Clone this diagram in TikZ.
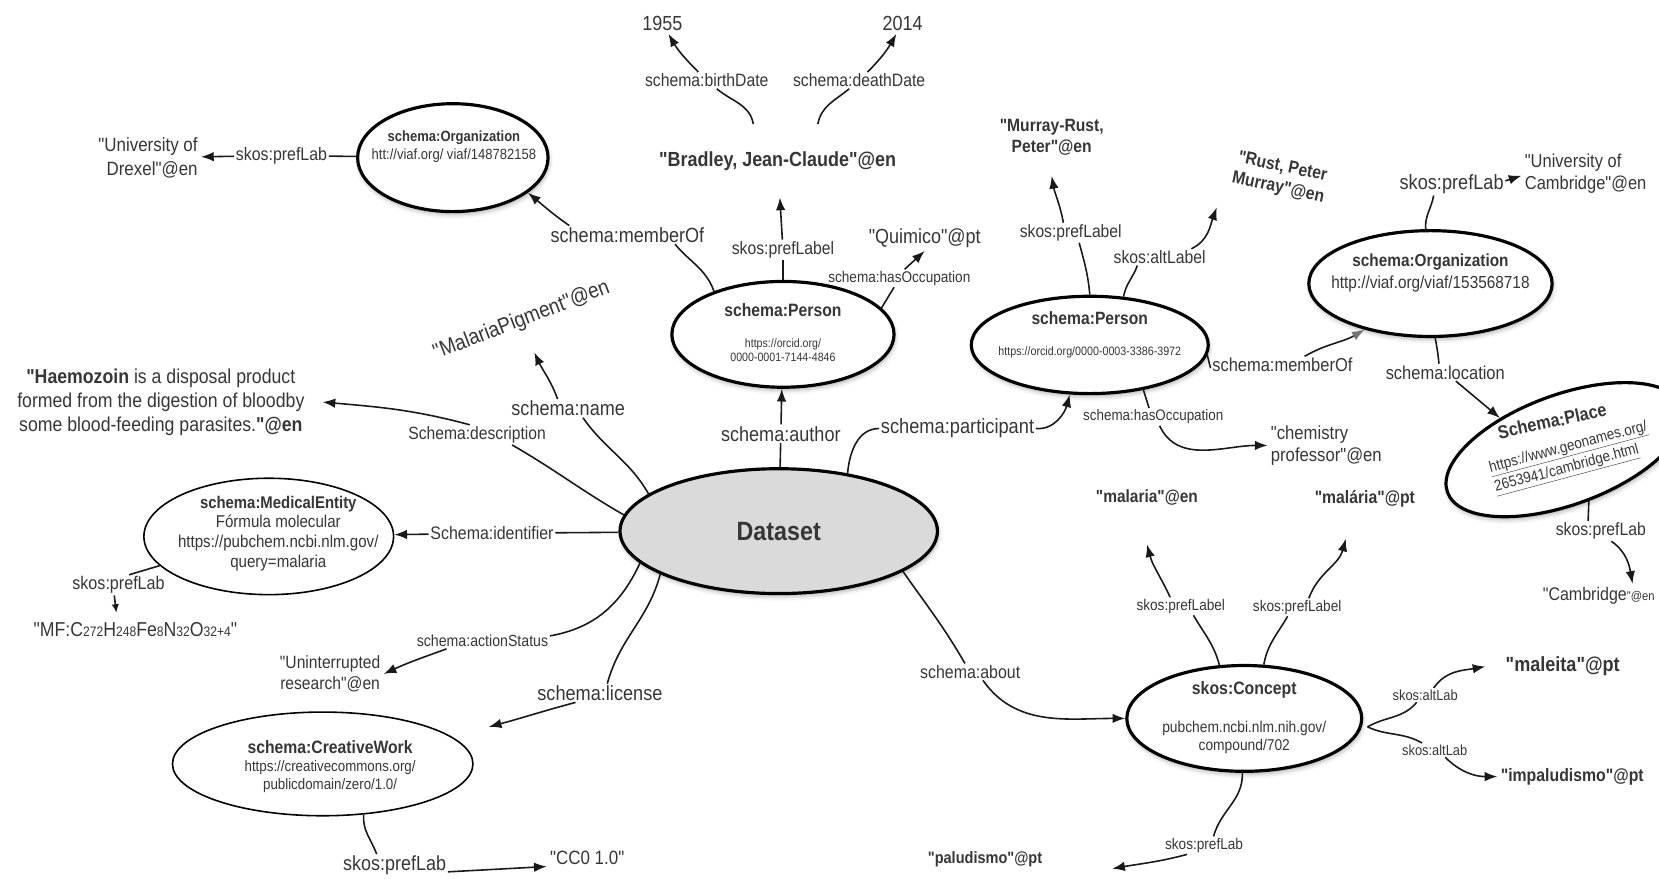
\documentclass[tikz,border=0pt]{standalone}
\usepackage{fontspec}
\setmainfont{Liberation Sans}[FakeStretch=0.88, Ligatures=TeXOff]
\usetikzlibrary{shapes.geometric,arrows.meta,shadows.blur}
\definecolor{txt}{HTML}{363636}
\definecolor{dsfill}{HTML}{DADADA}
\newcommand\fsz[2]{\fontsize{#1}{#2}\selectfont}
\newcommand\smallsub[1]{{\fontsize{13}{15}\selectfont #1}}
\tikzset{
  wire/.style={line width=1.5pt, draw=black!90},
  arr/.style={wire, -{Latex[length=12pt,width=9pt]}},
  arrsmall/.style={wire, -{Latex[length=8pt,width=7pt]}},
  arrgray/.style={wire, -{Latex[length=12pt,width=9pt,color=black!55]}},
  ringbold/.style={ellipse, draw, line width=3pt, inner sep=0pt, fill=white,
    blur shadow={shadow xshift=1pt, shadow yshift=-3pt, shadow blur radius=4pt, shadow opacity=30}},
  ringthin/.style={ellipse, draw, line width=1.5pt, inner sep=0pt, fill=white},
  lbl/.style={inner sep=1.5pt, text=txt, font=\fsz{#1}{#1}},
  val/.style={inner sep=3pt, text=txt},
  intext/.style={inner sep=1pt, text=txt, align=center},
}
\begin{document}
\begin{tikzpicture}[x=1pt,y=1pt]
\useasboundingbox (0,0) rectangle (1568,-830);

% ---------- ellipses ----------
\node[ringbold, minimum width=300pt, minimum height=118pt, fill=dsfill] (ds) at (736,-502) {};
\node[ringbold, minimum width=210pt, minimum height=100pt] (p1) at (740,-316) {};
\node[ringbold, minimum width=180pt, minimum height=102pt] (orgL) at (428,-149) {};
\node[ringbold, minimum width=224pt, minimum height=92pt] (p2) at (1030,-326) {};
\node[ringbold, minimum width=230pt, minimum height=100pt] (org2) at (1352,-268) {};
\node[ringbold, minimum width=236pt, minimum height=104pt, rotate=20] (place) at (1479,-425) {};
\node[ringbold, minimum width=222pt, minimum height=100pt] (concept) at (1176,-679) {};
\node[ringthin, minimum width=236pt, minimum height=110pt] (med) at (254,-507) {};
\node[ringthin, minimum width=284pt, minimum height=98pt] (cw) at (305,-722) {};

% ---------- text inside the ellipses ----------
\node[intext, font=\fsz{25}{28}\bfseries] (dsT) at (736,-502) {Dataset};
\node[intext, font=\fsz{16.9}{19}\bfseries] (p1T) at (740,-293) {schema:Person};
\node[intext, font=\fsz{11.4}{14}] (p1U) at (740,-331) {https://orcid.org/\\0000-0001-7144-4846};
\node[intext, font=\fsz{14}{16}\bfseries] (orgLT) at (429,-130) {schema:Organization};
\node[intext, font=\fsz{14}{16}] (orgLU) at (429,-147) {htt://viaf.org/ viaf/148782158};
\node[intext, font=\fsz{16.8}{19}\bfseries] (p2T) at (1030,-301) {schema:Person};
\node[intext, font=\fsz{11.5}{14}] (p2U) at (1030,-333) {https://orcid.org/0000-0003-3386-3972};
\node[intext, font=\fsz{16.5}{19}\bfseries] (org2T) at (1352,-248) {schema:Organization};
\node[intext, font=\fsz{16.5}{19}] (org2U) at (1352,-268) {http://viaf.org/viaf/153568718};
\node[intext, font=\fsz{16}{18}\bfseries] (medT) at (263,-476) {schema:MedicalEntity};
\node[intext, font=\fsz{16.2}{18.7}] (medU) at (263,-513) {Fórmula molecular\\https://pubchem.ncbi.nlm.gov/\\query=malaria};
\node[intext, font=\fsz{16.9}{19}\bfseries] (cwT) at (312,-706) {schema:CreativeWork};
\node[intext, font=\fsz{14.3}{17.5}] (cwU) at (312,-734) {https://creativecommons.org/\\publicdomain/zero/1.0/};
\node[intext, font=\fsz{17}{19}\bfseries] (conT) at (1176,-652) {skos:Concept};
\node[intext, font=\fsz{14.8}{17}] (conU) at (1176,-697) {pubchem.ncbi.nlm.nih.gov/\\compound/702};
\node[intext, font=\fsz{17.5}{19}\bfseries, rotate=12] (placeT) at (1467,-398) {Schema:Place};
\node[intext, font=\fsz{14.5}{19}, align=left, rotate=15] (placeU) at (1485,-433) {\underline{https://www.geonames.org/}\\\underline{2653941/cambridge.html}};

% ---------- literal values ----------
\node[val, font=\fsz{19.3}{22}] (y1955) at (626,-22) {1955};
\node[val, font=\fsz{19.3}{22}] (y2014) at (853,-22) {2014};
\node[val, font=\fsz{19.3}{22}\bfseries, minimum height=69pt] (bradley) at (735,-152) {"Bradley, Jean-Claude"@en};
\node[val, font=\fsz{18.2}{23}, align=right, anchor=east] (drexel) at (190,-149) {"University of\\Drexel"@en};
\node[val, font=\fsz{19.3}{22}] (quimico) at (874,-225) {"Quimico"@pt};
\node[val, font=\fsz{20.5}{22}, rotate=21] (malPig) at (493,-303) {"MalariaPigment"@en};
\node[val, font=\fsz{19}{22.5}, align=center] (haemo) at (152,-380) {\textbf{"Haemozoin} is a disposal product\\formed from the digestion of bloodby\\some blood-feeding parasites.\textbf{"@en}};
\node[val, font=\fsz{19}{22}] (mf) at (128,-595) {"MF:C\smallsub{272}H\smallsub{248}Fe\smallsub{8}N\smallsub{32}O\smallsub{32+4}"};
\node[val, font=\fsz{16.8}{20}, align=center] (unint) at (312,-637) {"Uninterrupted\\research"@en};
\node[val, font=\fsz{18.2}{21}] (cc0) at (555,-811) {"CC0 1.0"};
\node[val, font=\fsz{15.6}{18}\bfseries] (paludismo) at (931,-812) {"paludismo"@pt};
\node[val, font=\fsz{16.6}{19}\bfseries] (malariaEn) at (1084,-470) {"malaria"@en};
\node[val, font=\fsz{16.9}{19}\bfseries] (malariaPt) at (1290,-471) {"malária"@pt};
\node[val, font=\fsz{19.4}{22}\bfseries] (maleita) at (1477,-630) {"maleita"@pt};
\node[val, font=\fsz{17}{20}\bfseries] (impal) at (1486,-734) {"impaludismo"@pt};
\node[val, font=\fsz{17.2}{20}] (cambridge) at (1511,-563) {"Cambridge{\fsz{12}{14}"@en}};
\node[val, font=\fsz{17.9}{21}, align=left, anchor=west] (chem) at (1198,-421) {"chemistry\\professor"@en};
\node[val, font=\fsz{16.8}{20}\bfseries, align=center] (murray) at (994,-130) {"Murray-Rust,\\Peter"@en};
\node[val, font=\fsz{16.9}{20}\bfseries, align=center, rotate=-12] (rustPM) at (1210,-168) {"Rust, Peter\\Murray"@en};
\node[val, font=\fsz{17.7}{21}, align=left, anchor=west] (uniCam) at (1438,-164) {"University of\\Cambridge"@en};

% ---------- property labels ----------
\node[lbl=17.1] (lblDrexel) at (266,-147) {skos:prefLab};
\node[lbl=16.9] (lblBirth) at (668,-76) {schema:birthDate};
\node[lbl=16.9] (lblDeath) at (812,-76) {schema:deathDate};
\node[lbl=16.9] (lblP1pref) at (740,-236) {skos:prefLabel};
\node[lbl=14.6] (lblP1occ) at (850,-263) {schema:hasOccupation};
\node[lbl=19.4] (lblMemL) at (593,-222) {schema:memberOf};
\node[lbl=19.4] (lblName) at (537,-386) {schema:name};
\node[lbl=16.8] (lblDesc) at (451,-411) {Schema:description};
\node[lbl=17.1] (lblIdent) at (465,-504) {Schema:identifier};
\node[lbl=17.3] (lblMedPref) at (112,-553) {skos:prefLab};
\node[lbl=15.2] (lblAction) at (456,-606) {schema:actionStatus};
\node[lbl=19.5] (lblLic) at (567,-655) {schema:license};
\node[lbl=19.3] (lblCwPref) at (373,-818) {skos:prefLab};
\node[lbl=19.4] (lblAuthor) at (738,-410) {schema:author};
\node[lbl=19.6] (lblPart) at (905,-405) {schema:participant};
\node[lbl=17.1] (lblAbout) at (917,-635) {schema:about};
\node[lbl=16.8] (lblP2pref) at (1012,-220) {skos:prefLabel};
\node[lbl=16.9] (lblP2alt) at (1096,-243) {skos:altLabel};
\node[lbl=17.7] (lblP2mem) at (1212,-345) {schema:memberOf};
\node[lbl=14.4] (lblP2occ) at (1090,-394) {schema:hasOccupation};
\node[lbl=19.5] (lblOrg2pref) at (1372,-174) {skos:prefLab};
\node[lbl=17.7] (lblLoc) at (1366,-352) {schema:location};
\node[lbl=16.9] (lblPlacePref) at (1513,-502) {skos:prefLab};
\node[lbl=14.6] (lblConL) at (1116,-573) {skos:prefLabel};
\node[lbl=14.6] (lblConR) at (1226,-574) {skos:prefLabel};
\node[lbl=13.8] (lblAltUp) at (1347,-657) {skos:altLab};
\node[lbl=13.8] (lblAltDn) at (1356,-709) {skos:altLab};
\node[lbl=14.6] (lblConBot) at (1138,-799) {skos:prefLab};

% free arrow ends
\coordinate (pigTip) at (505,-333);
\coordinate (licTip) at (462,-687);
\coordinate (rustTip) at (1150,-196);

% ---------- connectors ----------
% left organization
\draw[wire] (orgL) -- (lblDrexel);
\draw[arr] (lblDrexel) -- (drexel);
% person 1
\draw[wire] ([xshift=-23pt]bradley.north) to[out=100,in=-40] (lblBirth);
\draw[arr] (lblBirth) to[out=135,in=-60] (y1955);
\draw[wire] ([xshift=38pt]bradley.north) to[out=80,in=-140] (lblDeath);
\draw[arr] (lblDeath) to[out=45,in=-120] (y2014);
\draw[wire] (p1) -- (lblP1pref);
\draw[arr] (lblP1pref) -- (bradley);
\draw[wire] (p1.15) -- ([xshift=-5pt]lblP1occ.south);
\draw[arr] ([xshift=5pt]lblP1occ.north) -- (quimico.south);
\draw[wire] (p1.148) to[out=110,in=-50] ([xshift=45pt]lblMemL.south);
\draw[arr] ([xshift=-55pt]lblMemL.north) to[out=145,in=-40] (orgL.-25);
% dataset, left side
\draw[wire] (ds.164) to[out=120,in=-55] ([xshift=14pt]lblName.south);
\draw[arr] ([xshift=-10pt]lblName.north) to[out=110,in=-65] (pigTip);
\draw[wire] (ds.174) to[out=150,in=-30] ([xshift=33pt]lblDesc.south);
\draw[arr] ([xshift=-7pt]lblDesc.north) to[out=165,in=-5] ([xshift=14pt]haemo.east);
\draw[wire] (ds) -- (lblIdent);
\draw[arr] (lblIdent) -- (med);
\draw[wire] (med.195) -- ([xshift=10pt]lblMedPref.north);
\draw[arrsmall] ([xshift=-4pt]lblMedPref.south) -- ([xshift=-18pt,yshift=6pt]mf.north);
\draw[wire] (ds.-167) to[out=-115,in=10] ([yshift=5pt]lblAction.east);
\draw[arr] ([xshift=-34pt]lblAction.south) to[out=200,in=25] (unint.east);
\draw[wire] (ds.-160) to[out=-105,in=75] ([xshift=7pt]lblLic.north);
\draw[arr] ([xshift=-23pt]lblLic.south) to[out=195,in=15] (licTip);
\draw[wire] (cw.-51) to[out=-95,in=110] ([xshift=-17pt]lblCwPref.north);
\draw[arr] ([yshift=-6pt]lblCwPref.east) -- ([yshift=-8pt]cc0.west);
% dataset, upper and right side
\draw[wire] (ds) -- (lblAuthor);
\draw[arr] (lblAuthor) -- (p1);
\draw[wire] (ds.40) to[out=85,in=180] (lblPart.west);
\draw[arr] (lblPart.east) to[out=-5,in=-105] (p2.-112);
\draw[wire] (ds.-18) to[out=-55,in=120] ([xshift=-5pt]lblAbout.north);
\draw[arr] ([xshift=12pt]lblAbout.south) to[out=-55,in=180] (concept.west);
% person 2
\draw[wire] (p2.north) to[out=95,in=-75] ([xshift=8pt]lblP2pref.south);
\draw[arr] ([xshift=-7pt]lblP2pref.north) to[out=100,in=-80] ([yshift=-16pt]murray.south);
\draw[wire] (p2.55) to[out=80,in=-110] ([xshift=-21pt]lblP2alt.south);
\draw[arr] ([xshift=30pt]lblP2alt.north) to[out=25,in=-110] (rustTip);
\draw[wire] (p2.-5) -- ([yshift=-3pt]lblP2mem.west);
\draw[arrgray] ([xshift=21pt]lblP2mem.north) to[out=30,in=-150] (org2.-145);
\draw[wire] (p2.-40) -- ([xshift=-4pt]lblP2occ.north);
\draw[arr] ([xshift=6pt]lblP2occ.south) to[out=-65,in=180] (chem.west);
% organization 2 and place
\draw[wire] (org2.95) to[out=95,in=-100] ([xshift=-17pt]lblOrg2pref.south);
\draw[arr] ([yshift=3pt]lblOrg2pref.east) -- ([yshift=-2pt]uniCam.west);
\draw[wire] (org2.-85) to[out=-80,in=95] ([xshift=-6pt]lblLoc.north);
\draw[arr] ([xshift=10pt]lblLoc.south) -- (place.134);
\draw[wire] (place.-85) -- ([xshift=-12pt]lblPlacePref.north);
\draw[arr] ([xshift=10pt]lblPlacePref.south) to[out=-35,in=100] ([xshift=32pt]cambridge.north);
% concept
\draw[wire] (concept.115) to[out=105,in=-60] ([xshift=12pt]lblConL.south);
\draw[arr] ([xshift=-10pt]lblConL.north) to[out=115,in=-75] ([yshift=-34pt]malariaEn.south);
\draw[wire] (concept.70) to[out=80,in=-120] ([xshift=-9pt]lblConR.south);
\draw[arr] ([xshift=11pt]lblConR.north) to[out=70,in=-105] ([xshift=-18pt,yshift=-27pt]malariaPt.south);
\draw[wire] ([xshift=4pt,yshift=-8pt]concept.east) to[out=30,in=-130] ([xshift=-8pt]lblAltUp.south);
\draw[arr] ([xshift=8pt]lblAltUp.north) to[out=55,in=-170] ([xshift=-16pt]maleita.west);
\draw[wire] ([xshift=4pt,yshift=-8pt]concept.east) to[out=-25,in=150] ([xshift=-12pt]lblAltDn.north);
\draw[arr] ([xshift=10pt]lblAltDn.south) to[out=-45,in=180] (impal.west);
\draw[wire] (concept.-92) to[out=-88,in=75] ([xshift=9pt]lblConBot.north);
\draw[arr] ([xshift=-16pt]lblConBot.south) to[out=-165,in=10] ([xshift=63pt,yshift=-9pt]paludismo.east);
\end{tikzpicture}
\end{document}
